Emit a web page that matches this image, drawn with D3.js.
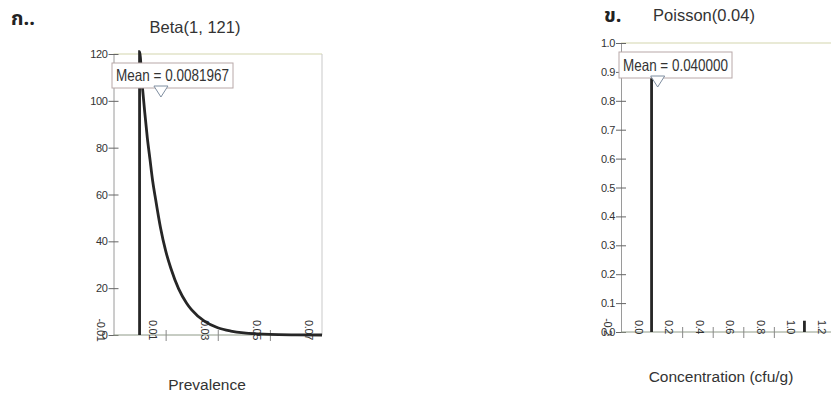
<!DOCTYPE html>
<html><head><meta charset="utf-8">
<script src="https://cdn.jsdelivr.net/npm/d3@7"></script>
<style>
body{margin:0;background:#fff}
svg{display:block}
.tk text{font-family:"Liberation Sans",Arial,sans-serif;font-size:11px;fill:#333;letter-spacing:-0.4px}
</style>
</head><body>
<svg id="c" width="831" height="395"></svg>
<script>
// ---- Panel ก : Beta(1, 121) density ----
const betaX       = [0, 0, 0.001, 0.002, 0.003, 0.004, 0.005, 0.006, 0.008, 0.010, 0.012, 0.015, 0.018, 0.020, 0.025, 0.030, 0.035, 0.040, 0.045, 0.050, 0.060, 0.070];
const betaDensity = [0, 121, 107, 95, 84, 75, 66, 59, 46, 36, 28.5, 19.7, 13.7, 10.7, 5.8, 3.1, 1.7, 0.9, 0.5, 0.25, 0.07, 0.0];
const betaYTicks  = [0, 20, 40, 60, 80, 100, 120];
const betaXLabels = [-0.01, 0.01, 0.03, 0.05, 0.07];
const betaXTickMarks = [0.01, 0.03, 0.05];
const betaMean = 0.0081967;
const betaTitle = "Beta(1, 121)";
const betaXTitle = "Prevalence";

// ---- Panel ข : Poisson(0.04) probabilities ----
const poissonK = [0, 1];
const poissonP = [0.961, 0.039];
const poissonYTicks = [0, 0.1, 0.2, 0.3, 0.4, 0.5, 0.6, 0.7, 0.8, 0.9, 1.0];
const poissonXLabels = [-0.2, 0.0, 0.2, 0.4, 0.6, 0.8, 1.0, 1.2];
const poissonXTickMarks = [0.2, 0.4, 0.6, 0.8];
const poissonMean = 0.04;
const poissonTitle = "Poisson(0.04)";
const poissonXTitle = "Concentration (cfu/g)";

const svg = d3.select("#c");
const INK = "#262626";

function panel(o){
  const g = svg.append("g");
  const x = d3.scaleLinear().domain(o.xDomain).range(o.xRange);
  const y = d3.scaleLinear().domain(o.yDomain).range(o.yRange);
  const [L, R] = o.xRange, [B, T] = o.yRange;

  // frame: top border and right border (light)
  g.append("line").attr("x1", L).attr("x2", o.frameRight).attr("y1", T).attr("y2", T)
    .attr("stroke", "#d4d6ae").attr("stroke-width", 1.2);
  if (o.rightBorder) g.append("line").attr("x1", R).attr("x2", R).attr("y1", T).attr("y2", B)
    .attr("stroke", "#c9c9c9").attr("stroke-width", 1);

  // y axis
  const ya = g.append("g").attr("class", "tk").attr("transform", `translate(${L},0)`)
    .call(d3.axisLeft(y).tickValues(o.yTicks).tickFormat(o.yFmt).tickSizeOuter(0).tickSizeInner(5));
  ya.select(".domain").attr("stroke", "#9a9a9a");
  ya.selectAll(".tick line").attr("x1", -5).attr("x2", 5).attr("stroke", "#666");
  ya.selectAll(".tick text").attr("x", -6);

  // x axis line
  g.append("line").attr("x1", L).attr("x2", o.frameRight).attr("y1", B).attr("y2", B)
    .attr("stroke", "#8f9a88").attr("stroke-width", 1);
  const xa = g.append("g").attr("class", "tk").attr("transform", `translate(0,${B})`)
    .call(d3.axisBottom(x).tickValues(o.xTickMarks).tickFormat("").tickSizeOuter(0).tickSizeInner(6));
  xa.select(".domain").remove();
  xa.selectAll(".tick line").attr("y1", -5).attr("y2", 6).attr("stroke", "#888");
  // rotated x labels (sit left of their ticks, straddling the axis)
  g.append("g").attr("class", "tk").selectAll("text").data(o.xLabels).join("text")
    .attr("transform", d => `translate(${x(d) - 17},${B - 5}) rotate(90)`)
    .attr("text-anchor", "middle")
    .text(o.xFmt);

  o.draw(g, x, y);

  // mean box
  const mb = o.meanBox;
  g.append("rect").attr("x", mb.x).attr("y", mb.y).attr("width", mb.w).attr("height", mb.h)
    .attr("fill", "#fff").attr("stroke", "#b8a8a8").attr("stroke-width", 1);
  g.append("text").attr("x", mb.x + 4).attr("y", mb.y + mb.h - 7)
    .attr("font-family", '"Liberation Sans Narrow","Liberation Sans",Arial,sans-serif')
    .attr("font-size", 16.5).attr("fill", "#333")
    .attr("textLength", mb.tl).attr("lengthAdjust", "spacingAndGlyphs")
    .text("Mean = " + o.meanText);
  const mx = x(o.mean), ty = mb.y + mb.h - 2;
  g.append("path").attr("d", `M${mx - 7},${ty} L${mx + 7},${ty} L${mx},${ty + 11} Z`)
    .attr("fill", "#fff").attr("stroke", "#7f8ea0").attr("stroke-width", 1);

  // title and axis title
  g.append("text").attr("x", o.titleX).attr("y", o.titleY).attr("text-anchor", "middle")
    .attr("font-family", '"Liberation Sans",Arial,sans-serif').attr("font-size", 16.5).attr("fill", "#333")
    .text(o.title);
  g.append("text").attr("x", o.xTitleX).attr("y", o.xTitleY).attr("text-anchor", "middle")
    .attr("font-family", '"Liberation Sans",Arial,sans-serif').attr("font-size", 15.5).attr("fill", "#333")
    .text(o.xTitle);
  // panel letter
  g.append("text").attr("x", o.letterX).attr("y", o.letterY)
    .attr("font-family", '"Noto Sans Thai","Noto Serif Thai","Loma","Garuda","DejaVu Sans",sans-serif')
    .attr("font-size", 20).attr("font-weight", "bold").attr("fill", "#222")
    .text(o.letter);
}

panel({
  xDomain: [-0.01, 0.07], xRange: [113.5, 322], yDomain: [0, 120], yRange: [335, 54],
  frameRight: 322, rightBorder: true,
  yTicks: betaYTicks, yFmt: d => String(d),
  xLabels: betaXLabels, xTickMarks: betaXTickMarks, xFmt: d => d.toFixed(2),
  mean: betaMean, meanText: "0.0081967", meanBox: {x: 112, y: 63, w: 121, h: 25, tl: 113},
  title: betaTitle, titleX: 195, titleY: 33,
  xTitle: betaXTitle, xTitleX: 207, xTitleY: 390,
  letter: "ก..", letterX: 11, letterY: 25,
  draw: (g, x, y) => {
    const pts = betaX.map((v, i) => [v, betaDensity[i]]);
    g.append("path").datum(pts)
      .attr("d", d3.line().x(d => x(d[0])).y(d => y(d[1])).curve(d3.curveMonotoneX))
      .attr("fill", "none").attr("stroke", INK).attr("stroke-width", 2.8);
  }
});

panel({
  xDomain: [-0.2, 1.2], xRange: [621, 835], yDomain: [0, 1.0], yRange: [332, 43],
  frameRight: 831, rightBorder: false,
  yTicks: poissonYTicks, yFmt: d => d.toFixed(1),
  xLabels: poissonXLabels, xTickMarks: poissonXTickMarks, xFmt: d => d.toFixed(1),
  mean: poissonMean, meanText: "0.040000", meanBox: {x: 619, y: 52, w: 113, h: 26, tl: 105},
  title: poissonTitle, titleX: 704, titleY: 21,
  xTitle: poissonXTitle, xTitleX: 721, xTitleY: 382,
  letter: "ข.", letterX: 604, letterY: 22,
  draw: (g, x, y) => {
    g.append("g").selectAll("line").data(poissonK).join("line")
      .attr("x1", d => x(d)).attr("x2", d => x(d))
      .attr("y1", y(0)).attr("y2", (d, i) => y(poissonP[i]))
      .attr("stroke", INK).attr("stroke-width", 2.8);
  }
});
</script>
</body></html>
